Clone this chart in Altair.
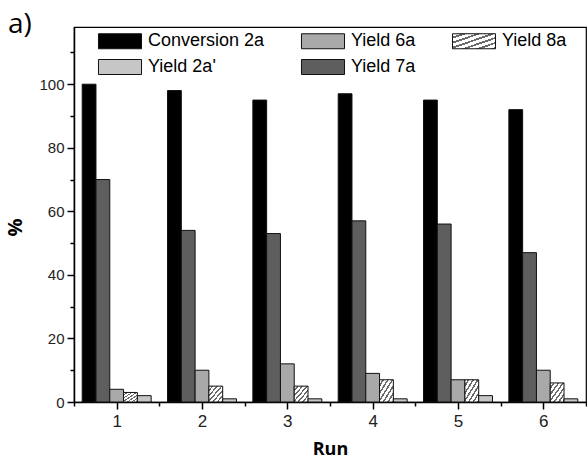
import altair as alt
import pandas as pd

# ---- data ----
runs = [1, 2, 3, 4, 5, 6]
conversion_2a = [100, 98, 95, 97, 95, 92]
yield_7a = [70, 54, 53, 57, 56, 47]
yield_6a = [4, 10, 12, 9, 7, 10]
yield_8a = [3, 5, 5, 7, 7, 6]
yield_2a_prime = [2, 1, 1, 1, 2, 1]

bar_order = ["Conversion 2a", "Yield 7a", "Yield 6a", "Yield 8a", "Yield 2a'"]
# legend is filled column by column (2 rows x 3 columns)
legend_order = ["Conversion 2a", "Yield 2a'", "Yield 6a", "Yield 7a", "Yield 8a"]
series_values = {
    "Conversion 2a": conversion_2a,
    "Yield 7a": yield_7a,
    "Yield 6a": yield_6a,
    "Yield 8a": yield_8a,
    "Yield 2a'": yield_2a_prime,
}

rows = []
for s in bar_order:
    for r, v in zip(runs, series_values[s]):
        rows.append({"run": r, "series": s, "slot": bar_order.index(s), "value": v})
df = pd.DataFrame(rows)

SUB = 0.1616  # width of one bar in run units
HALF = SUB * len(bar_order) / 2


def stripe_expr(n, bg, fg, frac):
    stops = []
    for k in range(n):
        a, b, c = k / n, (k + frac) / n, (k + 1) / n
        stops += [(a, bg), (b, bg), (b, fg), (c, fg)]
    s = ",".join("{offset:%.4f,color:'%s'}" % (o, col) for o, col in stops)
    return "{gradient:'linear',x1:0,y1:0,x2:1,y2:1,stops:[%s]}" % s


hatch = {"expr": stripe_expr(6, "#ffffff", "#6a6a6a", 0.62)}
color_map = {
    "Conversion 2a": "#000000",
    "Yield 2a'": "#c6c6c6",
    "Yield 6a": "#a9a9a9",
    "Yield 7a": "#5e5e5e",
    "Yield 8a": hatch,
}
color_range = [color_map[s] for s in legend_order]

major_y = {"condition": {"test": "datum.value % 20 === 0", "value": 7}, "value": 4}
major_x = {"condition": {"test": "datum.value % 1 === 0", "value": 7}, "value": 4}

bars = (
    alt.Chart(df)
    .transform_calculate(
        x0=f"datum.run - {HALF} + datum.slot * {SUB}",
        x1=f"datum.run - {HALF} + (datum.slot + 1) * {SUB}",
    )
    .mark_bar(stroke="#111111", strokeWidth=1)
    .encode(
        x=alt.X(
            "x0:Q",
            scale=alt.Scale(domain=[0.5, 6.5], nice=False, zero=False),
            axis=alt.Axis(
                values=[0.5, 1, 1.5, 2, 2.5, 3, 3.5, 4, 4.5, 5, 5.5, 6, 6.5],
                labelExpr="datum.value % 1 === 0 ? format(datum.value, 'd') : ''",
                tickSize=major_x,
                title="Run",
                titleX=256,
                titleY=52,
                titleBaseline="alphabetic",
            ),
        ),
        x2="x1:Q",
        y=alt.Y(
            "value:Q",
            scale=alt.Scale(domain=[0, 118], nice=False),
            axis=alt.Axis(
                values=list(range(0, 111, 10)),
                labelExpr="datum.value % 20 === 0 ? datum.label : ''",
                tickSize=major_y,
                title="%",
                titleX=-49,
                titleY=200,
            ),
        ),
        y2=alt.datum(0),
        fill=alt.Fill(
            "series:N",
            scale=alt.Scale(domain=legend_order, range=color_range),
            legend=alt.Legend(
                orient="none",
                legendX=37,
                legendY=5,
                columns=3,
                columnPadding=34,
                rowPadding=6,
                title=None,
                padding=0,
                symbolType="M-2.87,-1L2.87,-1L2.87,1L-2.87,1Z",
                symbolSize=225,
                symbolStrokeColor="#111111",
                symbolStrokeWidth=1,
                symbolOpacity=1,
                labelFont="Liberation Sans",
                labelFontSize=18,
                labelColor="black",
                labelOffset=19,
                labelLimit=0,
            ),
        ),
    )
)

chart = (
    bars.properties(
        width=512,
        height=375,
        autosize=alt.AutoSizeParams(type="none"),
        padding={"left": 74, "top": 27, "right": 1, "bottom": 57},
        title=alt.Title(
            "a)",
            anchor="start",
            frame="group",
            dx=-66,
            dy=34,
            offset=0,
            baseline="alphabetic",
            font="Open Sans",
            fontSize=28,
            fontWeight="normal",
            color="black",
        ),
    )
    .configure_view(stroke="black", strokeWidth=1.2)
    .configure_axis(
        grid=False,
        domainColor="black",
        domainWidth=1.5,
        tickColor="black",
        tickWidth=1.5,
        labelFont="Liberation Sans",
        labelColor="#222222",
        labelFlush=False,
        labelOverlap=False,
        titleFont="Open Sans",
        titleFontWeight="bold",
        titleColor="black",
    )
    .configure_axisX(labelFontSize=17, labelPadding=4, titleFontSize=18)
    .configure_axisY(labelFontSize=15, labelPadding=3, titleFontSize=20)
)

chart.save("out.html", embed_options={"renderer": "svg", "actions": False})
